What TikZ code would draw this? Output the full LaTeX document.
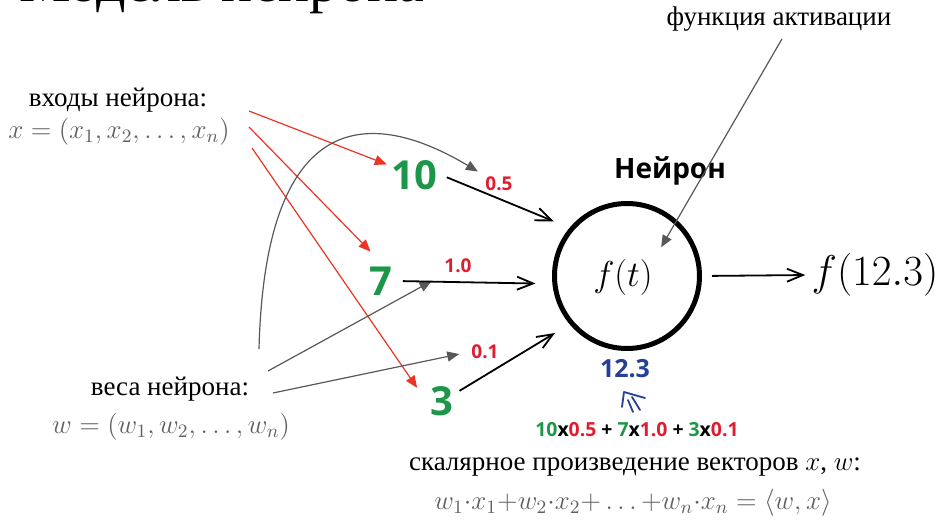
\RequirePackage{fix-cm}
\documentclass[tikz,border=0pt]{standalone}
\usepackage[no-math]{fontspec}
\setmainfont{Liberation Serif}
\newfontfamily\handfont{Open Sans}
\usetikzlibrary{arrows.meta}

\definecolor{numgreen}{RGB}{28,150,72}
\definecolor{wred}{RGB}{222,30,48}
\definecolor{arrred}{RGB}{236,52,36}
\definecolor{sumblue}{RGB}{38,64,150}
\definecolor{linegray}{RGB}{88,88,88}
\definecolor{mathgray}{RGB}{95,95,95}

\tikzset{
  txt/.style={font=\fontsize{13.5}{16}\selectfont, inner sep=1pt},
  num/.style={font=\handfont\bfseries\fontsize{20}{24}\selectfont, text=numgreen, inner sep=2pt},
  wt/.style={font=\handfont\bfseries\fontsize{9.5}{11}\selectfont, text=wred, inner sep=1pt},
  redarr/.style={color=arrred, line width=0.6pt, -{Triangle[length=6pt,width=5pt]}},
  grayarr/.style={color=linegray, line width=0.6pt, -{Triangle[length=6pt,width=5pt]}},
  blkarr/.style={color=black, line width=0.9pt, -{Straight Barb[length=8pt,width=6.5pt,line width=0.9pt]}},
}

\begin{document}
\begin{tikzpicture}[%
      x=0.5pt, y=-0.5pt,
      ]
      \useasboundingbox (0,0) rectangle (944,524);
      \clip (0,0) rectangle (944,524);

      \node[anchor=base west, font=\fontsize{29}{34}\selectfont, inner sep=0pt] (title) at (19,2) {Модель нейрона};

      \node[txt] (inlabel) at (118,100) {входы нейрона:};
      \node[txt, text=mathgray] (invec) at (119,132) {$x=(x_1,x_2,\ldots,x_n)$};
      \node[txt] (wlabel) at (170,389) {веса нейрона:};
      \node[txt, text=mathgray] (wvec) at (171,427) {$w=(w_1,w_2,\ldots,w_n)$};

      \node[num] (n10) at (414,175) {10};
      \node[num] (n7) at (381,281) {7};
      \node[num] (n3) at (442,401) {3};

      \node[wt] (w05) at (499,184) {0.5};
      \node[wt] (w10) at (458,266) {1.0};
      \node[wt] (w01) at (485,352) {0.1};

      \node[circle, draw, line width=2.5pt, minimum size=72.5pt, inner sep=0pt] (neuron) at (627,276) {};
      \node[font=\fontsize{18}{21}\selectfont, inner sep=1pt] (ft) at (623,278) {$f(t)$};
      \node[font=\handfont\bfseries\fontsize{14}{17}\selectfont] (nname) at (670,171) {Нейрон};
      \node[txt] (act) at (779,19) {функция активации};
      \node[font=\fontsize{21.5}{25}\selectfont, inner sep=1pt] (out) at (875,275) {$f(12.3)$};

      \node[font=\handfont\bfseries\fontsize{12.5}{15}\selectfont, text=sumblue] (sum) at (625,369) {12.3};
      \node[font=\handfont\bfseries\fontsize{9.7}{11}\selectfont] (prod) at (637,430) {\textcolor{numgreen}{10}x\textcolor{wred}{0.5} + \textcolor{numgreen}{7}x\textcolor{wred}{1.0} + \textcolor{numgreen}{3}x\textcolor{wred}{0.1}};
      \node[txt] (dotlabel) at (635,467) {скалярное произведение векторов $x$, $w$:};
      \node[txt, text=mathgray] (dotform) at (633,503) {$w_1{\cdot}x_1{+}w_2{\cdot}x_2{+}\ldots{+}w_n{\cdot}x_n=\langle w,x\rangle$};

      \coordinate (xs1) at (249,111);
      \coordinate (xs2) at (249,127);
      \coordinate (xs3) at (252,148);
      \coordinate (ws1) at (259,349);
      \coordinate (ws2) at (268,371);
      \coordinate (ws3) at (273,393);

      \draw[redarr] (xs1) -- (n10);
      \draw[redarr, shorten >=7.5pt] (xs2) -- (n7.north);
      \draw[redarr, shorten >=8pt] (xs3) -- (n3.west);

      \draw[grayarr, shorten >=3pt] (ws1) .. controls (266,75) and (400,125) .. (w05.north west);
      \draw[grayarr, shorten >=6pt] (ws2) -- (w10.south west);
      \draw[grayarr, shorten >=5pt] (ws3) -- (w01.west);

      \draw[blkarr, shorten <=3pt, shorten >=8.5pt] (n10.east) -- (neuron.140);
      \draw[blkarr, shorten <=3pt, shorten >=8.5pt] (n7.east) -- (neuron.186);
      \draw[blkarr, shorten <=1pt, shorten >=8.5pt] (n3.30) -- (neuron.220);
      \draw[blkarr, shorten <=5pt, shorten >=2pt] (neuron.east) -- (out.west);

      \draw[grayarr, shorten <=3pt, shorten >=6pt] ([xshift=3pt]act.south) -- (ft.north east);

      \draw[sumblue, line width=0.9pt, line cap=round, line join=round] (622,407) -- (624,392) -- (645,398);
      \draw[sumblue, line width=0.9pt, line cap=round] (628,400) -- (633,412);
      \draw[sumblue, line width=0.9pt, line cap=round] (632,397) -- (640,410);
\end{tikzpicture}
\end{document}
